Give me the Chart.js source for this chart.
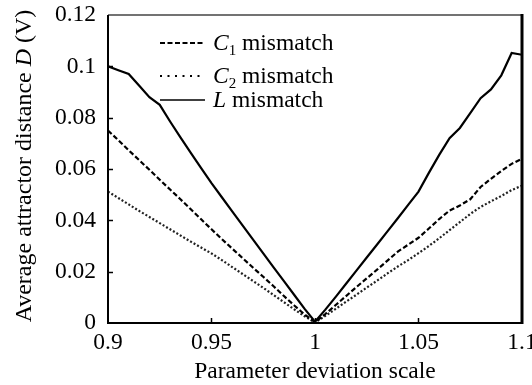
<!DOCTYPE html>
<html>
<head>
<meta charset="utf-8">
<script src="https://cdn.jsdelivr.net/npm/chart.js@4.4.1/dist/chart.umd.min.js"></script>
<style>
html,body{margin:0;padding:0;background:#fff;}
canvas{display:block;}
</style>
</head>
<body>
<canvas id="c" width="532" height="385"></canvas>
<script>
const xValues = [0.900,0.905,0.910,0.915,0.920,0.925,0.930,0.935,0.940,0.945,0.950,0.955,0.960,0.965,0.970,0.975,0.980,0.985,0.990,0.995,1.000,
                 1.005,1.010,1.015,1.020,1.025,1.030,1.035,1.040,1.045,1.050,1.055,1.060,1.065,1.070,1.075,1.080,1.085,1.090,1.095,1.100];
const lMismatch = [0.1000,0.0985,0.0970,0.0925,0.0880,0.0850,0.0785,0.0723,0.0663,0.0603,0.0545,0.0490,0.0435,0.0380,0.0326,0.0271,0.0217,0.0163,0.0109,0.0055,0.0005,
                   0.0052,0.0102,0.0153,0.0204,0.0255,0.0306,0.0357,0.0408,0.0460,0.0512,0.0585,0.0655,0.0720,0.0760,0.0818,0.0876,0.0910,0.0965,0.1052,0.1045];
const c1Mismatch = [0.0750,0.0712,0.0673,0.0635,0.0597,0.0558,0.0520,0.0482,0.0443,0.0404,0.0365,0.0327,0.0290,0.0253,0.0216,0.0180,0.0143,0.0105,0.0068,0.0033,0.0003,
                    0.0035,0.0070,0.0105,0.0140,0.0174,0.0208,0.0243,0.0278,0.0305,0.0332,0.0368,0.0405,0.0438,0.0458,0.0482,0.0530,0.0562,0.0592,0.0620,0.0640];
const c2Mismatch = [0.0512,0.0487,0.0462,0.0437,0.0413,0.0389,0.0365,0.0341,0.0317,0.0294,0.0271,0.0245,0.0218,0.0191,0.0164,0.0137,0.0109,0.0081,0.0053,0.0026,0.0002,
                    0.0028,0.0055,0.0083,0.0110,0.0138,0.0165,0.0193,0.0220,0.0245,0.0272,0.0300,0.0330,0.0362,0.0393,0.0425,0.0452,0.0474,0.0495,0.0518,0.0535];
const xTickLabels = ['0.9','0.95','1','1.05','1.1'];
const yTickLabels = ['0','0.02','0.04','0.06','0.08','0.1','0.12'];
const seriesNames = ['C1 mismatch','C2 mismatch','L mismatch'];

const FONT = "'Liberation Serif', 'Times New Roman', serif";
const toPts = arr => arr.map((v,i) => ({x: xValues[i], y: v}));

const framePlugin = {
  id: 'frame',
  afterDatasetsDraw(chart) {
    const ctx = chart.ctx, a = chart.chartArea;
    const xs = chart.scales.x, ys = chart.scales.y;
    ctx.save();
    ctx.strokeStyle = '#000';
    ctx.lineWidth = 1.5;
    ys.ticks.forEach(t => {
      if (t.value <= 0.0001 || t.value >= 0.1199) return;
      const y = Math.round(ys.getPixelForValue(t.value)) + 0.5;
      ctx.beginPath(); ctx.moveTo(a.left, y); ctx.lineTo(a.left + 5, y); ctx.stroke();
    });
    xs.ticks.forEach(t => {
      if (t.value <= 0.9001 || t.value >= 1.0999) return;
      const x = Math.round(xs.getPixelForValue(t.value)) + 0.5;
      ctx.beginPath(); ctx.moveTo(x, a.bottom); ctx.lineTo(x, a.bottom - 5); ctx.stroke();
    });
    ctx.strokeStyle = '#444'; ctx.lineWidth = 1.5;
    ctx.beginPath(); ctx.moveTo(a.left, a.top); ctx.lineTo(a.right, a.top); ctx.stroke();
    ctx.strokeStyle = '#000'; ctx.lineWidth = 2;
    ctx.beginPath(); ctx.moveTo(a.left, a.top); ctx.lineTo(a.left, a.bottom); ctx.lineTo(a.right, a.bottom); ctx.stroke();
    ctx.lineWidth = 3;
    ctx.beginPath(); ctx.moveTo(a.right, a.top - 1); ctx.lineTo(a.right, a.bottom + 1); ctx.stroke();
    ctx.restore();
  },
  afterDraw(chart) {
    const ctx = chart.ctx, a = chart.chartArea;
    ctx.save();
    ctx.fillStyle = '#000';
    const parts = [['Average attractor distance ', 'normal'], ['D', 'italic'], [' (V)', 'normal']];
    let total = 0;
    parts.forEach(p => { ctx.font = p[1] + " 24px " + FONT; total += ctx.measureText(p[0]).width; });
    ctx.translate(25, (a.top + a.bottom) / 2 - 3);
    ctx.rotate(-Math.PI / 2);
    ctx.textBaseline = 'middle';
    ctx.textAlign = 'left';
    let cx = -total / 2;
    parts.forEach(p => { ctx.font = p[1] + " 24px " + FONT; ctx.fillText(p[0], cx, 0); cx += ctx.measureText(p[0]).width; });
    ctx.restore();

    ctx.save();
    const rows = [
      {dash: [5, 2.5], y: a.top + 28, sym: 'C', sub: '1', width: 2},
      {dash: [2, 5.5], y: a.top + 61, sym: 'C', sub: '2', width: 2.2},
      {dash: [], y: a.top + 85, sym: 'L', sub: '', width: 1.6}
    ];
    const lx0 = a.left + 52, lx1 = a.left + 97, tx = a.left + 105;
    rows.forEach(r => {
      ctx.strokeStyle = '#000'; ctx.lineWidth = r.width; ctx.setLineDash(r.dash);
      ctx.beginPath(); ctx.moveTo(lx0, r.y); ctx.lineTo(lx1, r.y); ctx.stroke();
      ctx.setLineDash([]);
      ctx.textBaseline = 'alphabetic';
      const base = r.y + 7;
      let x = tx;
      ctx.font = "italic 23.5px " + FONT;
      ctx.fillText(r.sym, x, base); x += ctx.measureText(r.sym).width;
      if (r.sub) {
        ctx.font = "15px " + FONT;
        ctx.fillText(r.sub, x, base + 5); x += ctx.measureText(r.sub).width;
      }
      ctx.font = "23.5px " + FONT;
      ctx.fillText(' mismatch', x, base);
    });
    ctx.restore();
  }
};

new Chart(document.getElementById('c'), {
  type: 'line',
  data: {
    datasets: [
      {label: seriesNames[0], data: toPts(c1Mismatch), borderColor: '#000', borderWidth: 2.2, borderDash: [5, 2.5], pointRadius: 0, tension: 0, fill: false},
      {label: seriesNames[1], data: toPts(c2Mismatch), borderColor: '#222', borderWidth: 2.2, borderDash: [2, 2], pointRadius: 0, tension: 0, fill: false},
      {label: seriesNames[2], data: toPts(lMismatch), borderColor: '#000', borderWidth: 2.2, pointRadius: 0, tension: 0, fill: false}
    ]
  },
  options: {
    responsive: false,
    devicePixelRatio: 1,
    animation: false,
    layout: {padding: {top: 15, right: 10, left: 0, bottom: 0}},
    plugins: {legend: {display: false}, tooltip: {enabled: false}},
    scales: {
      x: {
        type: 'linear', min: 0.9, max: 1.1,
        grid: {display: false, drawTicks: false},
        border: {display: false},
        ticks: {
          stepSize: 0.05, autoSkip: false, maxRotation: 0, padding: 6, color: '#000',
          font: {family: FONT, size: 23.5},
          callback: v => xTickLabels[Math.round((v - 0.9) / 0.05)]
        },
        title: {display: true, text: 'Parameter deviation scale', color: '#000', font: {family: FONT, size: 23.5, lineHeight: 1}, padding: {top: 0, bottom: 1}},
        afterFit: s => { s.height = 62; s.paddingLeft = 0; s.paddingRight = 0; }
      },
      y: {
        type: 'linear', min: 0, max: 0.12,
        grid: {display: false, drawTicks: false},
        border: {display: false},
        ticks: {
          stepSize: 0.02, padding: 12, color: '#000',
          font: {family: FONT, size: 23.5},
          callback: v => yTickLabels[Math.round(v / 0.02)]
        },
        afterFit: s => { s.width = 108; s.paddingTop = 0; s.paddingBottom = 0; }
      }
    }
  },
  plugins: [framePlugin]
});
</script>
</body>
</html>
